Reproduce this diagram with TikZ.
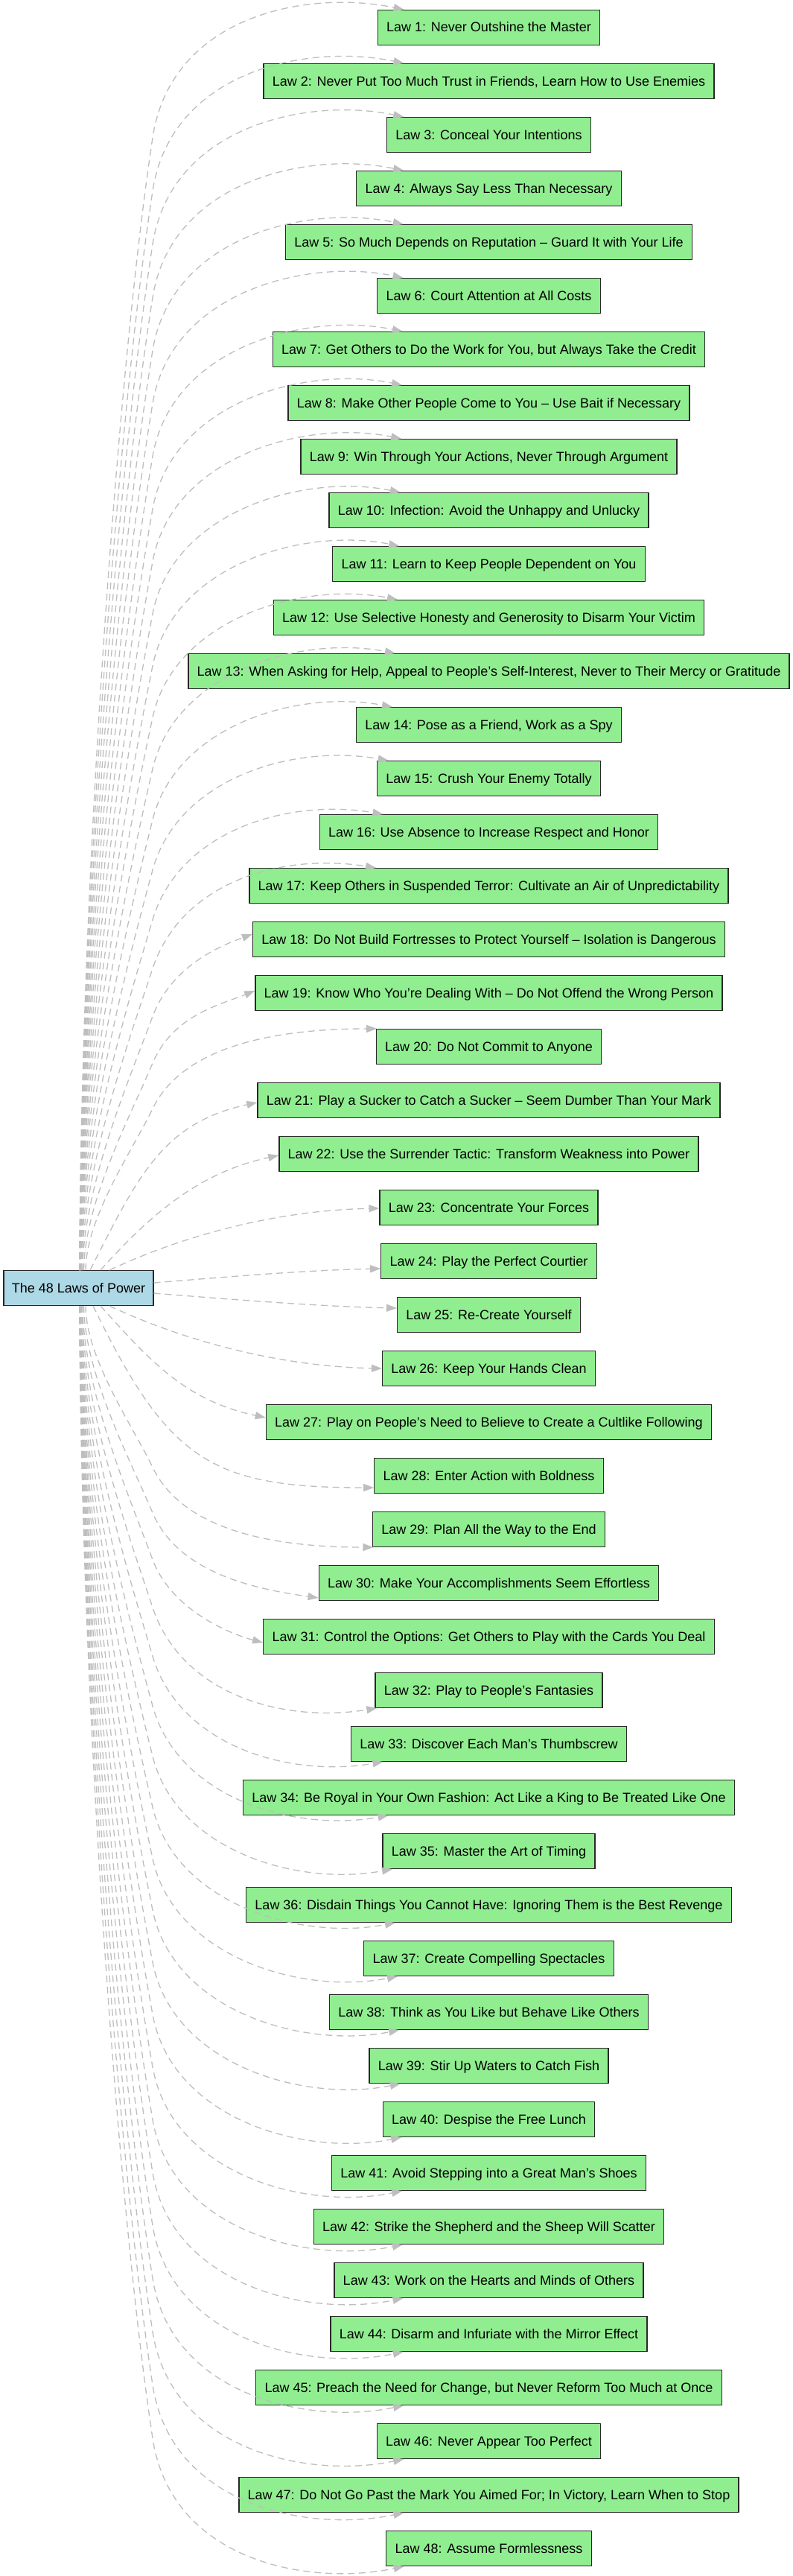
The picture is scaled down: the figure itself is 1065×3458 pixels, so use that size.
\documentclass[tikz,border=0pt]{standalone}
\usepackage{fontspec}
\setmainfont{Liberation Sans}
\usetikzlibrary{arrows.meta,calc}
\definecolor{lawgreen}{HTML}{90EE90}
\definecolor{rootblue}{HTML}{ADD8E6}
\definecolor{edgegray}{RGB}{190,190,190}
\definecolor{boxline}{RGB}{40,40,40}
\newdimen\lawlx
\newcommand\legcoords[3]{%
  \pgfmathsetmacro\lmm{#2}%
  \pgfmathsetmacro\lcc{(1-(\lmm))*1729}%
  \pgfmathsetmacro\lyc{37+72*(#1-1)}%
  \pgfmathsetmacro\lD{1729-\lyc}%
  \pgfmathsetmacro\lxS{107+40*exp(-\lD/200)}%
  \pgfmathsetmacro\lhK{150*(1-exp(-\lD/400))}%
  \pgfmathsetmacro\lth{82-40*exp(-\lD/400)}%
  \pgfmathsetmacro\lyK{\lyc+\lhK}%
  \pgfmathsetmacro\lLL{1705-\lyK}%
  \pgfmathsetmacro\lga{0.2*\lLL+20}%
  \pgfmathsetmacro\lal{#3}%
  \coordinate (s) at (\lxS,{\lcc+(\lmm)*1705});%
  \coordinate (a1) at ({\lxS+1},{\lcc+(\lmm)*(1705-0.33*\lLL)});%
  \coordinate (a2) at ({205-\lga*cos(\lth)},{\lcc+(\lmm)*(\lyK+\lga*sin(\lth))});%
  \coordinate (k) at (205,{\lcc+(\lmm)*\lyK});%
  \coordinate (b1) at ({205+\lal*cos(\lth)},{\lcc+(\lmm)*(\lyK-\lal*sin(\lth))});%
}
\newcommand\faredge[4]{%
  \legcoords{#1}{#2}{100+0.04*\lD}%
  \pgfextractx{\lawlx}{\pgfpointanchor{L#3}{west}}%
  \pgfmathsetmacro\llx{\the\lawlx}%
  \pgfmathsetmacro\lxE{max(543-38*exp(-(\lD-540)/250),\llx+3)}%
  \pgfmathsetmacro\lyE{\lyc-24}%
  \pgfmathsetmacro\lphi{atan(24/(656.5-\lxE))}%
  \coordinate (b2) at ({\lxE-130*cos(\lphi)},{\lcc+(\lmm)*(\lyE-130*sin(\lphi))});%
  \coordinate (e) at (\lxE,0);%
  \draw[lawedge] (root.#4 -| s) .. controls (a1) and (a2) .. (k) .. controls (b1) and (b2) .. (L#3.#4 -| e);%
}
\newcommand\lawnode[3]{\node[lawbox] (L#1) at (656.5,#2) {#3};}
\begin{document}
\begin{tikzpicture}[x=1pt,y=-1pt,
  lawbox/.style={draw=boxline, line width=1.33pt, fill=lawgreen, minimum height=46.7pt,
    inner xsep=11.8pt, inner ysep=0pt, text height=16pt, text depth=4pt,
    font=\fontsize{18}{21}\selectfont},
  rootbox/.style={lawbox, fill=rootblue, inner xsep=10.8pt},
  lawedge/.style={draw=edgegray, line width=1.3pt, dash pattern=on 9pt off 6pt,
    -{Triangle[length=14pt,width=10pt,fill=edgegray]}}]
\useasboundingbox (0,0) rectangle (1065,3458);
\fill[white] (0,0) rectangle (1065,3458);
\node[rootbox] (root) at (105.5,1729) {The 48 Laws of Power};
\lawnode{1}{37}{Law 1: Never Outshine the Master}
\lawnode{2}{109}{Law 2: Never Put Too Much Trust in Friends, Learn How to Use Enemies}
\lawnode{3}{181}{Law 3: Conceal Your Intentions}
\lawnode{4}{253}{Law 4: Always Say Less Than Necessary}
\lawnode{5}{325}{Law 5: So Much Depends on Reputation – Guard It with Your Life}
\lawnode{6}{397}{Law 6: Court Attention at All Costs}
\lawnode{7}{469}{Law 7: Get Others to Do the Work for You, but Always Take the Credit}
\lawnode{8}{541}{Law 8: Make Other People Come to You – Use Bait if Necessary}
\lawnode{9}{613}{Law 9: Win Through Your Actions, Never Through Argument}
\lawnode{10}{685}{Law 10: Infection: Avoid the Unhappy and Unlucky}
\lawnode{11}{757}{Law 11: Learn to Keep People Dependent on You}
\lawnode{12}{829}{Law 12: Use Selective Honesty and Generosity to Disarm Your Victim}
\lawnode{13}{901}{Law 13: When Asking for Help, Appeal to People’s Self-Interest, Never to Their Mercy or Gratitude}
\lawnode{14}{973}{Law 14: Pose as a Friend, Work as a Spy}
\lawnode{15}{1045}{Law 15: Crush Your Enemy Totally}
\lawnode{16}{1117}{Law 16: Use Absence to Increase Respect and Honor}
\lawnode{17}{1189}{Law 17: Keep Others in Suspended Terror: Cultivate an Air of Unpredictability}
\lawnode{18}{1261}{Law 18: Do Not Build Fortresses to Protect Yourself – Isolation is Dangerous}
\lawnode{19}{1333}{Law 19: Know Who You’re Dealing With – Do Not Offend the Wrong Person}
\lawnode{20}{1405}{Law 20: Do Not Commit to Anyone}
\lawnode{21}{1477}{Law 21: Play a Sucker to Catch a Sucker – Seem Dumber Than Your Mark}
\lawnode{22}{1549}{Law 22: Use the Surrender Tactic: Transform Weakness into Power}
\lawnode{23}{1621}{Law 23: Concentrate Your Forces}
\lawnode{24}{1693}{Law 24: Play the Perfect Courtier}
\lawnode{25}{1765}{Law 25: Re-Create Yourself}
\lawnode{26}{1837}{Law 26: Keep Your Hands Clean}
\lawnode{27}{1909}{Law 27: Play on People’s Need to Believe to Create a Cultlike Following}
\lawnode{28}{1981}{Law 28: Enter Action with Boldness}
\lawnode{29}{2053}{Law 29: Plan All the Way to the End}
\lawnode{30}{2125}{Law 30: Make Your Accomplishments Seem Effortless}
\lawnode{31}{2197}{Law 31: Control the Options: Get Others to Play with the Cards You Deal}
\lawnode{32}{2269}{Law 32: Play to People’s Fantasies}
\lawnode{33}{2341}{Law 33: Discover Each Man’s Thumbscrew}
\lawnode{34}{2413}{Law 34: Be Royal in Your Own Fashion: Act Like a King to Be Treated Like One}
\lawnode{35}{2485}{Law 35: Master the Art of Timing}
\lawnode{36}{2557}{Law 36: Disdain Things You Cannot Have: Ignoring Them is the Best Revenge}
\lawnode{37}{2629}{Law 37: Create Compelling Spectacles}
\lawnode{38}{2701}{Law 38: Think as You Like but Behave Like Others}
\lawnode{39}{2773}{Law 39: Stir Up Waters to Catch Fish}
\lawnode{40}{2845}{Law 40: Despise the Free Lunch}
\lawnode{41}{2917}{Law 41: Avoid Stepping into a Great Man’s Shoes}
\lawnode{42}{2989}{Law 42: Strike the Shepherd and the Sheep Will Scatter}
\lawnode{43}{3061}{Law 43: Work on the Hearts and Minds of Others}
\lawnode{44}{3133}{Law 44: Disarm and Infuriate with the Mirror Effect}
\lawnode{45}{3205}{Law 45: Preach the Need for Change, but Never Reform Too Much at Once}
\lawnode{46}{3277}{Law 46: Never Appear Too Perfect}
\lawnode{47}{3349}{Law 47: Do Not Go Past the Mark You Aimed For; In Victory, Learn When to Stop}
\lawnode{48}{3421}{Law 48: Assume Formlessness}
% far edges, upper and lower
\foreach \i in {1,...,17} {\faredge{\i}{1}{\i}{north}}
\foreach \i in {1,...,17} {\pgfmathtruncatemacro\jj{49-\i}\faredge{\i}{-1}{\jj}{south}}
% Law 18 / 31
\legcoords{18}{1}{70}
\coordinate (e) at ([yshift=7pt]L18.west);
\draw[lawedge] (root.north -| s) .. controls (a1) and (a2) .. (k) .. controls (b1) and ($(e)+(-47,17.1)$) .. (e);
\legcoords{18}{-1}{70}
\coordinate (e) at ([yshift=-8pt]L31.west);
\draw[lawedge] (root.south -| s) .. controls (a1) and (a2) .. (k) .. controls (b1) and ($(e)+(-48.3,-12.9)$) .. (e);
% Law 19 / 30
\legcoords{19}{1}{70}
\coordinate (e) at ([yshift=3pt]L19.west);
\draw[lawedge] (root.north -| s) .. controls (a1) and (a2) .. (k) .. controls (b1) and ($(e)+(-46.4,18.7)$) .. (e);
\legcoords{19}{-1}{90}
\coordinate (e) at ([yshift=-20pt]L30.west);
\draw[lawedge] (root.south -| s) .. controls (a1) and (a2) .. (k) .. controls (b1) and ($(e)+(-79.2,-11.1)$) .. (e);
% Law 20 / 29
\legcoords{20}{1}{100}
\coordinate (e) at ([xshift=1.5pt]L20.north west);
\draw[lawedge] (root.north -| s) .. controls (a1) and (a2) .. (k) .. controls (b1) and ($(e)+(-120,0)$) .. (e);
\legcoords{20}{-1}{100}
\coordinate (e) at ([xshift=1.5pt]L29.south west);
\draw[lawedge] (root.south -| s) .. controls (a1) and (a2) .. (k) .. controls (b1) and ($(e)+(-120,0)$) .. (e);
% Law 21 / 28
\coordinate (s) at (121,0);
\coordinate (e) at ([yshift=-3pt]L21.west);
\draw[lawedge] (root.north -| s) .. controls (184.6,1580.3) and ($(e)+(-127.2,27)$) .. (e);
\coordinate (s) at (125,0);
\coordinate (e) at ([yshift=-16pt]L28.west);
\draw[lawedge] (root.south -| s) .. controls (225.7,1959.8) and ($(e)+(-220,0)$) .. (e);
% Law 22 / 27
\coordinate (s) at (135,0);
\coordinate (e) at ([yshift=-2pt]L22.west);
\draw[lawedge] (root.north -| s) .. controls (201.9,1630.7) and ($(e)+(-107.6,22.9)$) .. (e);
\coordinate (e) at ([yshift=6pt]L27.west);
\draw[lawedge] (root.south -| s) .. controls (201.9,1827.3) and ($(e)+(-107.6,-22.9)$) .. (e);
% Law 23 / 26
\coordinate (s) at (147,0);
\coordinate (e) at ([yshift=-1pt]L23.west);
\draw[lawedge] (root.north -| s) .. controls (255.7,1654.2) and ($(e)+(-130,2.6)$) .. (e);
\coordinate (e) at (L26.west);
\draw[lawedge] (root.south -| s) .. controls (255.7,1803.8) and ($(e)+(-130,-2.6)$) .. (e);
% Law 24 / 25
\coordinate (t) at (0,1722);
\coordinate (e) at ([yshift=-10pt]L24.west);
\draw[lawedge] (root.east |- t) .. controls (306,1714) and ($(e)+(-100,2)$) .. (e);
\coordinate (t) at (0,1736);
\coordinate (e) at ([yshift=9pt]L25.west);
\draw[lawedge] (root.east |- t) .. controls (306,1744) and ($(e)+(-100,-2)$) .. (e);
\end{tikzpicture}
\end{document}
